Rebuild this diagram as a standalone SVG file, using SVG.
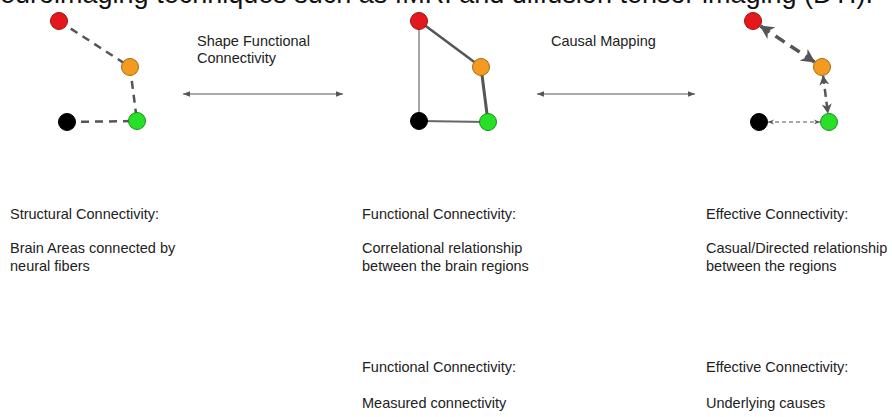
<svg xmlns="http://www.w3.org/2000/svg" width="892" height="417" viewBox="0 0 892 417">
<style>
  text { font-family: "Liberation Sans", Arial, sans-serif; fill: #222; }
  .lbl { font-size: 14.5px; }
  .top { font-size: 27px; fill: #111; }
  .dash { fill: none; stroke: #555; stroke-width: 2.5; stroke-dasharray: 8 6; }
  .hline { fill: none; stroke: #555; stroke-width: 1.2; }
  .red { fill: #e3171c; stroke: #a31010; stroke-width: 1; }
  .orange { fill: #f29b20; stroke: #a86a14; stroke-width: 1; }
  .green { fill: #27e027; stroke: #1a8f1a; stroke-width: 1; }
  .black { fill: #000; stroke: #000; stroke-width: 1; }
</style>
<defs>
  <marker id="thin" viewBox="0 0 10 10" refX="10" refY="5" markerWidth="7" markerHeight="7" markerUnits="userSpaceOnUse" orient="auto-start-reverse">
    <path d="M0,1 L10,5 L0,9 z" fill="#555"/>
  </marker>
  <marker id="big" viewBox="0 0 14 14" refX="13" refY="7" markerWidth="14" markerHeight="14" markerUnits="userSpaceOnUse" orient="auto-start-reverse">
    <path d="M0,0 L14,7 L0,14 L4,7 z" fill="#555"/>
  </marker>
  <marker id="mid" viewBox="0 0 12 12" refX="11" refY="6" markerWidth="10" markerHeight="10" markerUnits="userSpaceOnUse" orient="auto-start-reverse">
    <path d="M0,0 L12,6 L0,12 L3.5,6 z" fill="#555"/>
  </marker>
  <marker id="small" viewBox="0 0 10 10" refX="10" refY="5" markerWidth="6" markerHeight="6" markerUnits="userSpaceOnUse" orient="auto-start-reverse">
    <path d="M0,1 L10,5 L0,9 L3,5 z" fill="#555"/>
  </marker>
</defs>
<rect width="892" height="417" fill="#fff"/>

<text class="top" x="-15" y="3" textLength="888" lengthAdjust="spacing">neuroimaging techniques such as fMRI and diffusion tensor imaging (DTI).</text>

<g id="connectors">
  <!-- structural -->
  <line class="dash" x1="59" y1="21" x2="130" y2="67"/>
  <line class="dash" x1="130" y1="67" x2="137" y2="121"/>
  <line class="dash" x1="67" y1="122" x2="137" y2="121"/>
  <!-- functional -->
  <line x1="419" y1="21" x2="419" y2="121" stroke="#888" stroke-width="1.5"/>
  <line x1="419" y1="21" x2="481" y2="67" stroke="#555" stroke-width="2.5"/>
  <line x1="481" y1="67" x2="488" y2="122" stroke="#555" stroke-width="3"/>
  <line x1="419" y1="121" x2="488" y2="122" stroke="#666" stroke-width="2"/>
  <!-- effective -->
  <line x1="760.5" y1="26" x2="814.5" y2="62" stroke="#555" stroke-width="3.5" stroke-dasharray="11 7" marker-start="url(#big)" marker-end="url(#big)"/>
  <line x1="823.1" y1="76" x2="827.9" y2="113" stroke="#555" stroke-width="2.5" stroke-dasharray="8 5" marker-start="url(#mid)" marker-end="url(#mid)"/>
  <line x1="768" y1="122" x2="820" y2="122" stroke="#555" stroke-width="1.2" stroke-dasharray="4 3" marker-start="url(#small)" marker-end="url(#small)"/>
  <!-- mapping arrows -->
  <line class="hline" x1="183" y1="94" x2="343" y2="94" marker-start="url(#thin)" marker-end="url(#thin)"/>
  <line class="hline" x1="537" y1="94" x2="695" y2="94" marker-start="url(#thin)" marker-end="url(#thin)"/>
</g>

<g id="s-red"><circle class="red" cx="59" cy="21" r="8.5"/></g>
<g id="s-orange"><circle class="orange" cx="130" cy="67" r="8.5"/></g>
<g id="s-black"><circle class="black" cx="67" cy="122" r="8.5"/></g>
<g id="s-green"><circle class="green" cx="137" cy="121" r="8.5"/></g>

<g id="f-red"><circle class="red" cx="419" cy="21" r="8.5"/></g>
<g id="f-orange"><circle class="orange" cx="481" cy="67" r="8.5"/></g>
<g id="f-black"><circle class="black" cx="419" cy="121" r="8.5"/></g>
<g id="f-green"><circle class="green" cx="488" cy="122" r="8.5"/></g>

<g id="e-red"><circle class="red" cx="753" cy="21" r="8.5"/></g>
<g id="e-orange"><circle class="orange" cx="822" cy="67" r="8.5"/></g>
<g id="e-black"><circle class="black" cx="759" cy="122" r="8.5"/></g>
<g id="e-green"><circle class="green" cx="829" cy="122" r="8.5"/></g>

<g id="label-shape">
  <text class="lbl" x="197" y="46">Shape Functional</text>
  <text class="lbl" x="197" y="63">Connectivity</text>
</g>
<g id="label-causal">
  <text class="lbl" x="551" y="46">Causal Mapping</text>
</g>

<g id="desc-structural">
  <text class="lbl" x="10" y="219">Structural Connectivity:</text>
  <text class="lbl" x="10" y="253">Brain Areas connected by</text>
  <text class="lbl" x="10" y="271">neural fibers</text>
</g>
<g id="desc-functional">
  <text class="lbl" x="362" y="219">Functional Connectivity:</text>
  <text class="lbl" x="362" y="253">Correlational relationship</text>
  <text class="lbl" x="362" y="271">between the brain regions</text>
</g>
<g id="desc-effective">
  <text class="lbl" x="706" y="219">Effective Connectivity:</text>
  <text class="lbl" x="706" y="253">Casual/Directed relationship</text>
  <text class="lbl" x="706" y="271">between the regions</text>
</g>
<g id="desc-functional-2">
  <text class="lbl" x="362" y="372">Functional Connectivity:</text>
  <text class="lbl" x="362" y="408">Measured connectivity</text>
</g>
<g id="desc-effective-2">
  <text class="lbl" x="706" y="372">Effective Connectivity:</text>
  <text class="lbl" x="706" y="408">Underlying causes</text>
</g>
</svg>
